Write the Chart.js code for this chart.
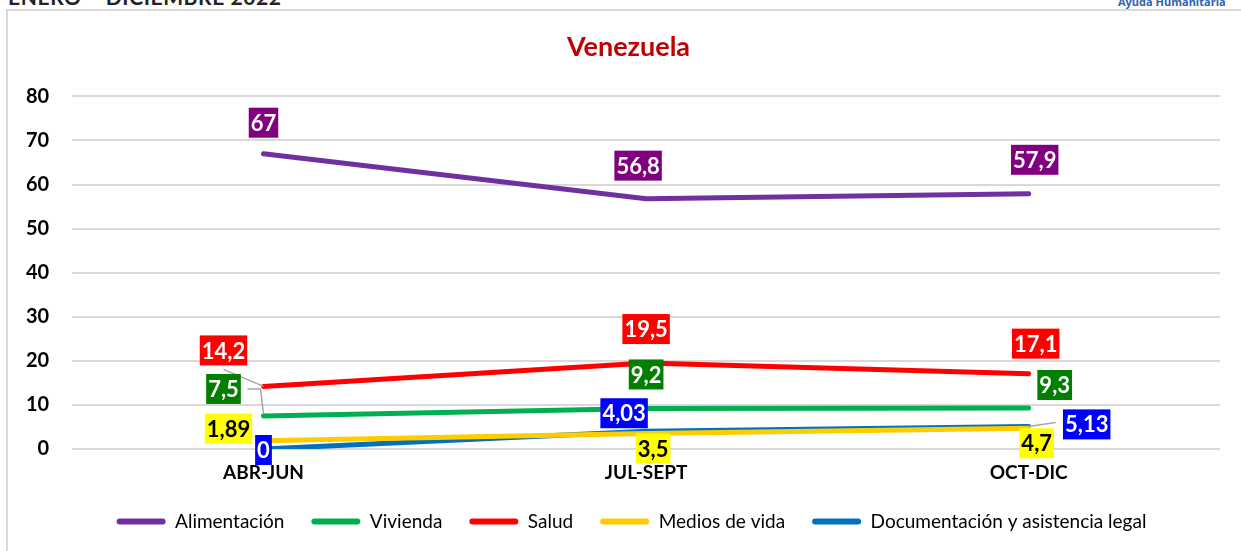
<!DOCTYPE html>
<html>
<head>
<meta charset="utf-8">
<script src="https://cdn.jsdelivr.net/npm/chart.js@4/dist/chart.umd.min.js"></script>
<style>
  body { margin: 0; background: #fff; overflow: hidden; }
  #wrap { position: relative; width: 1241px; height: 551px; overflow: hidden; }
  #frame { position: absolute; left: 6px; top: 9px; width: 1250px; height: 560px; border: 2px solid #d9d9d9; box-sizing: border-box; }
  #head { position: absolute; left: 8px; top: -16px; font: bold 21px Lato, sans-serif; color: #222; letter-spacing: 0.6px; }
  #brand { position: absolute; left: 1118px; top: -6px; font: bold 11px "Open Sans", sans-serif; color: #2f62b0; }
  canvas { position: absolute; left: 0; top: 0; }
</style>
</head>
<body>
<div id="wrap">
  <div id="frame"></div>
  <div id="head">ENERO – DICIEMBRE 2022</div>
  <div id="brand">Ayuda Humanitaria</div>
  <canvas id="myChart" width="1241" height="551"></canvas>
</div>
<script>
const categories = ['ABR-JUN', 'JUL-SEPT', 'OCT-DIC'];
const alimentacion = [67, 56.8, 57.9];
const vivienda = [7.5, 9.2, 9.3];
const salud = [14.2, 19.5, 17.1];
const mediosDeVida = [1.89, 3.5, 4.7];
const documentacion = [0, 4.03, 5.13];

// where each value label sits, relative to its point (px)
const labelOffsets = [
    [[0, -31], [-8, -33], [6, -34]],
    [[-40, -27], [0, -34], [26, -23]],
    [[-40, -36], [0, -34], [7, -30]],
    [[-35, -12], [7, 15], [8, 15]],
    [[0, 1], [-22, -18], [58, -2]]
];
// gray leader lines: [dataset, index, points relative to the data point]
const leaders = [
    [2, 0, [[-40, -17], [0, 0]]],
    [1, 0, [[-16, -27], [-3, -27], [0, -2]]],
    [4, 2, [[0, 0], [27, -4]]]
];
const labelBg = ['#800080', '#007f00', '#ff0000', '#ffff00', '#0000ff'];
const labelFg = ['#fff', '#fff', '#fff', '#000', '#fff'];

const valueLabels = {
    id: 'valueLabels',
    afterLayout(chart) {
        // title and legend sit a little right of the canvas centre in the original
        chart.titleBlock.left += 17;
        chart.titleBlock.right += 17;
        chart.legend.left += 20;
        chart.legend.right += 20;
    },
    afterDatasetsDraw(chart) {
        const { ctx } = chart;
        ctx.save();
        ctx.strokeStyle = '#a6a6a6';
        ctx.lineWidth = 1.5;
        leaders.forEach(([d, i, pts]) => {
            const p = chart.getDatasetMeta(d).data[i];
            ctx.beginPath();
            pts.forEach(([dx, dy], k) => {
                if (k === 0) ctx.moveTo(p.x + dx, p.y + dy);
                else ctx.lineTo(p.x + dx, p.y + dy);
            });
            ctx.stroke();
        });
        ctx.font = 'bold 22px Lato, sans-serif';
        ctx.textAlign = 'center';
        ctx.textBaseline = 'middle';
        chart.data.datasets.forEach((ds, d) => {
            chart.getDatasetMeta(d).data.forEach((p, i) => {
                const txt = String(ds.data[i]).replace('.', ',');
                const [dx, dy] = labelOffsets[d][i];
                const cx = p.x + dx, cy = p.y + dy;
                const w = ctx.measureText(txt).width + 4;
                ctx.fillStyle = labelBg[d];
                ctx.fillRect(cx - w / 2, cy - 15, w, 30);
                ctx.fillStyle = labelFg[d];
                ctx.fillText(txt, cx, cy + 1);
            });
        });
        ctx.restore();
    }
};

function line(label, data, color) {
    return {
        label: label,
        data: data,
        borderColor: color,
        backgroundColor: color,
        borderWidth: 5,
        borderCapStyle: 'round',
        pointRadius: 0,
        tension: 0
    };
}

new Chart(document.getElementById('myChart'), {
    type: 'line',
    data: {
        labels: categories,
        datasets: [
            line('Alimentación', alimentacion, '#7030a0'),
            line('Vivienda', vivienda, '#00b050'),
            line('Salud', salud, '#ff0000'),
            line('Medios de vida', mediosDeVida, '#ffcc00'),
            line('Documentación y asistencia legal', documentacion, '#0070c0')
        ]
    },
    options: {
        responsive: false,
        animation: false,
        layout: { padding: { left: 3, right: 21, top: 0, bottom: 10 } },
        plugins: {
            title: {
                display: true,
                text: 'Venezuela',
                color: '#c00000',
                font: { family: 'Lato', size: 27, weight: 'bold' },
                padding: { top: 31, bottom: 33 }
            },
            legend: {
                position: 'bottom',
                labels: {
                    boxWidth: 49,
                    boxHeight: 6,
                    padding: 27,
                    useBorderRadius: true,
                    borderRadius: 3,
                    color: '#000',
                    font: { family: 'Lato', size: 19 },
                    generateLabels: (chart) => Chart.defaults.plugins.legend.labels.generateLabels(chart)
                        .map(l => Object.assign(l, { lineWidth: 0 }))
                }
            },
            tooltip: { enabled: false }
        },
        scales: {
            x: {
                offset: true,
                grid: { display: false, drawTicks: false },
                border: { display: false },
                ticks: { color: '#000', padding: 12, font: { family: 'Lato', size: 19, weight: 'bold' } },
                afterFit: (scale) => { scale.height = 36; }
            },
            y: {
                min: 0,
                max: 80,
                ticks: { stepSize: 10, color: '#000', padding: 23, font: { family: 'Lato', size: 20, weight: 'bold' } },
                grid: { color: '#d9d9d9', lineWidth: 2, drawTicks: false },
                border: { display: false }
            }
        }
    },
    plugins: [valueLabels]
});
</script>
</body>
</html>
